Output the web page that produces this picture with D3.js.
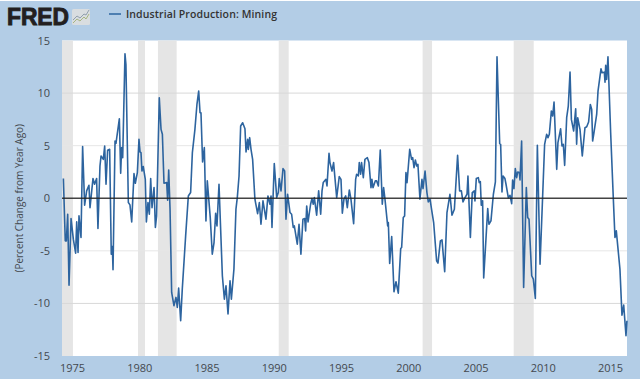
<!DOCTYPE html>
<html>
<head>
<meta charset="utf-8">
<script src="https://cdn.jsdelivr.net/npm/d3@7"></script>
<style>
  html, body { margin: 0; padding: 0; background: #fff; }
  svg { display: block; }
</style>
</head>
<body>
<div id="chart"></div>
<script>
// Industrial Production: Mining, percent change from year ago
const DATES = [
  1974.36,1974.50,1974.58,1974.68,1974.78,1974.93,1975.10,1975.27,1975.35,1975.45,1975.52,1975.67,1975.79,1975.94,
  1976.09,1976.26,1976.34,1976.56,1976.68,1976.83,1976.93,1977.08,1977.16,1977.33,1977.43,1977.53,1977.65,1977.80,1977.92,
  1978.00,1978.05,1978.20,1978.27,1978.52,1978.62,1978.69,1978.77,1978.94,1979.01,1979.19,1979.31,1979.44,1979.61,1979.71,1979.86,1979.98,
  1980.06,1980.13,1980.20,1980.30,1980.45,1980.53,1980.65,1980.75,1980.85,1980.95,1981.10,1981.20,1981.29,1981.49,1981.62,1981.72,1981.84,
  1982.04,1982.11,1982.19,1982.29,1982.41,1982.58,1982.73,1982.83,1982.93,1983.08,1983.20,1983.45,1983.65,1983.82,1983.95,
  1984.14,1984.29,1984.42,1984.52,1984.59,1984.71,1984.84,1984.96,1985.06,1985.28,1985.43,1985.56,1985.68,1985.78,1985.93,
  1986.18,1986.33,1986.45,1986.60,1986.75,1986.85,1987.04,1987.19,1987.29,1987.42,1987.54,1987.69,1987.86,1987.94,
  1988.06,1988.11,1988.21,1988.31,1988.43,1988.60,1988.80,1988.93,1989.05,1989.20,1989.42,1989.57,1989.72,1989.80,1989.87,
  1990.04,1990.22,1990.34,1990.41,1990.54,1990.69,1990.81,1990.91,1991.03,1991.21,1991.33,1991.45,1991.53,1991.75,1991.88,
  1992.02,1992.17,1992.30,1992.37,1992.45,1992.55,1992.74,1992.84,1992.94,1993.02,1993.19,1993.34,1993.49,1993.59,1993.68,1993.88,1993.96,
  1994.11,1994.18,1994.33,1994.45,1994.68,1994.87,1995.00,1995.10,1995.22,1995.35,1995.47,1995.62,1995.74,1995.94,
  1996.09,1996.16,1996.29,1996.36,1996.46,1996.53,1996.66,1996.78,1996.96,1997.08,1997.23,1997.30,1997.38,1997.55,1997.65,1997.78,1997.92,
  1998.07,1998.17,1998.27,1998.47,1998.52,1998.62,1998.77,1998.94,1999.09,1999.26,1999.44,1999.51,1999.63,1999.73,1999.83,1999.91,1999.98,
  2000.11,2000.25,2000.33,2000.43,2000.53,2000.63,2000.72,2000.87,2001.02,2001.10,2001.25,2001.39,2001.49,2001.62,2001.74,2001.89,
  2002.11,2002.21,2002.39,2002.51,2002.71,2002.88,2003.10,2003.25,2003.43,2003.67,2003.82,2003.95,
  2004.07,2004.22,2004.37,2004.44,2004.62,2004.76,2004.91,2004.96,2005.06,2005.21,2005.28,2005.36,2005.43,2005.53,2005.61,2005.91,
  2006.00,2006.15,2006.33,2006.48,2006.60,2006.80,2006.87,2006.97,2007.05,2007.19,2007.27,2007.44,2007.57,2007.69,2007.76,2007.86,2007.96,
  2008.06,2008.14,2008.26,2008.31,2008.43,2008.58,2008.78,2008.88,2008.98,2009.18,2009.30,2009.45,2009.60,2009.80,
  2010.14,2010.29,2010.39,2010.49,2010.64,2010.74,2010.84,2011.04,2011.13,2011.33,2011.43,2011.53,2011.63,2011.78,2011.90,
  2012.03,2012.13,2012.30,2012.45,2012.52,2012.60,2012.77,2012.94,2013.14,2013.27,2013.41,2013.54,2013.64,2013.71,2013.81,
  2014.01,2014.11,2014.33,2014.41,2014.58,2014.63,2014.68,2014.75,2014.85,2015.05,2015.25,2015.37,2015.47,2015.74,2015.89,2016.02,2016.19,2016.26
];
const VALUES = [
  1.87,-4.05,-4.05,-1.52,-8.26,-1.93,-3.89,-5.22,-2.25,-5.16,-1.68,-3.73,4.91,-0.66,
  0.70,1.23,-0.89,1.87,1.33,1.87,-2.88,3.07,4.02,3.70,4.97,1.33,4.56,4.65,-5.32,
  -4.59,-6.80,5.44,5.22,7.56,2.37,4.81,3.86,13.73,12.72,-0.41,-0.63,-2.25,2.34,1.42,2.44,5.60,
  4.40,4.34,2.59,3.01,1.80,-2.25,-0.41,-1.52,1.87,-0.89,1.01,-2.78,-1.68,9.56,6.55,6.08,1.42,
  1.49,-0.19,2.69,-1.04,-8.96,-10.22,-9.43,-10.38,-8.54,-11.65,-8.64,-3.58,0.22,0.54,4.34,
  6.55,8.92,10.19,8.13,8.13,3.45,4.81,-2.15,1.65,-1.84,-5.32,-4.21,-1.42,-2.63,1.33,
  -7.37,-9.59,-8.32,-11.01,-7.85,-9.59,-6.74,-1.04,0.06,2.12,6.87,7.18,6.61,4.40,
  5.60,4.65,5.76,4.65,3.70,-0.09,-1.46,-0.41,-2.47,-0.25,-1.99,0.22,-0.57,0.22,-2.78,
  3.29,0.06,0.54,1.87,0.70,2.82,2.59,-1.99,0.38,-1.36,-1.52,-2.78,-2.63,-4.37,-2.47,
  -5.32,-1.99,-1.93,-3.10,-0.73,-2.25,-0.57,-0.03,-0.57,0.06,-1.61,0.70,-1.52,0.70,1.49,1.80,1.17,
  4.27,3.39,2.59,3.39,0.06,2.06,1.80,-1.42,-0.09,0.22,-0.89,0.79,-0.09,-2.41,
  1.80,2.28,2.12,3.39,2.28,3.39,1.96,3.70,3.86,3.39,1.01,1.80,1.01,1.65,1.65,1.17,4.59,
  -0.57,1.01,-0.09,-2.63,-2.31,-6.20,-3.64,-8.89,-7.94,-9.02,-4.78,-4.68,-1.84,-1.68,2.44,1.49,2.59,
  4.65,3.70,3.86,2.91,3.64,3.07,3.23,-0.09,1.80,0.92,2.59,0.54,-0.35,-0.09,-1.11,-2.31,
  -5.95,-6.17,-4.05,-3.96,-6.99,-1.36,0.38,-1.61,-1.04,4.08,0.70,0.70,
  -0.35,0.06,0.38,2.12,-3.73,0.54,0.70,-0.25,1.87,1.96,1.49,1.58,-0.66,-0.25,-7.59,-0.98,
  -2.47,-2.15,0.38,1.55,13.45,5.19,5.13,0.60,2.12,1.87,1.33,0.06,0.28,-0.51,1.74,0.92,2.82,
  1.96,2.50,2.44,1.74,5.44,-8.48,1.01,-1.84,-2.00,-7.37,-7.69,-9.53,5.03,-6.27,
  5.13,6.08,5.76,6.08,8.29,7.82,9.15,2.75,5.28,6.61,4.97,5.13,3.13,7.66,8.77,
  11.99,7.50,6.39,8.51,5.13,7.66,6.55,4.02,6.71,6.80,7.25,8.92,8.45,5.44,6.23,
  7.97,10.19,12.31,11.93,11.99,11.04,12.63,11.30,13.45,6.23,-0.09,-3.73,-3.10,-6.74,-11.11,-10.16,-13.07,-11.65
];
const RECESSIONS = [
  [1974.26, 1975.07], [1979.91, 1980.43], [1981.39, 1982.78],
  [1990.37, 1991.11], [2001.07, 2001.77], [2007.84, 2009.33]
];
const X_TICKS = [1975, 1980, 1985, 1990, 1995, 2000, 2005, 2010, 2015];
const Y_TICKS = [-15, -10, -5, 0, 5, 10, 15];
const LEGEND_LABEL = 'Industrial Production: Mining';
const Y_TITLE = '(Percent Change from Year Ago)';

const W = 640, H = 379;
const m = { t: 40.5, r: 13, b: 23, l: 62 };
const FONT = '"Open Sans", sans-serif';
const TEXT = '#44494f';
const LINE = '#2d649f';

const svg = d3.select('#chart').append('svg')
  .attr('width', W).attr('height', H)
  .attr('viewBox', `0 0 ${W} ${H}`);

// blue page background, white plot
svg.append('rect').attr('x', 0).attr('y', 1).attr('width', W).attr('height', H - 1).attr('fill', '#b3cde6');
svg.append('rect')
  .attr('x', m.l).attr('y', m.t)
  .attr('width', W - m.l - m.r).attr('height', H - m.t - m.b)
  .attr('fill', '#fff');

const x = d3.scaleLinear().domain([1974.257, 2016.265]).range([m.l, W - m.r]);
const y = d3.scaleLinear().domain([-15, 15]).range([H - m.b, m.t]);

// recession bands
svg.append('g').selectAll('rect').data(RECESSIONS).join('rect')
  .attr('x', d => x(d[0]))
  .attr('y', m.t)
  .attr('width', d => x(d[1]) - x(d[0]))
  .attr('height', H - m.t - m.b)
  .attr('fill', '#e5e5e5');

// grid
svg.append('g').selectAll('line').data(Y_TICKS.filter(d => d !== 0 && Math.abs(d) !== 15)).join('line')
  .attr('x1', m.l).attr('x2', W - m.r)
  .attr('y1', d => y(d)).attr('y2', d => y(d))
  .attr('stroke', d => Math.abs(d) === 5 ? '#e6e6e6' : '#d8d8d8')
  .attr('stroke-width', 1);

// axes
const xAxis = svg.append('g').attr('transform', `translate(0,${H - m.b})`)
  .call(d3.axisBottom(x).tickValues(X_TICKS).tickFormat(d3.format('d')).tickSize(0).tickPadding(8.5));
const yAxis = svg.append('g').attr('transform', `translate(${m.l},0)`)
  .call(d3.axisLeft(y).tickValues(Y_TICKS).tickFormat(d => d).tickSize(0).tickPadding(12));
[xAxis, yAxis].forEach(a => {
  a.select('.domain').remove();
  a.selectAll('text').attr('font-family', FONT).attr('font-size', 11).attr('fill', TEXT);
});

svg.append('text')
  .attr('transform', `translate(19,${y(0)}) rotate(-90)`)
  .attr('text-anchor', 'middle').attr('dominant-baseline', 'central')
  .attr('font-family', FONT).attr('font-size', 10).attr('fill', TEXT)
  .text(Y_TITLE);

// series
const lineGen = d3.line().x((d, i) => x(d)).y((d, i) => y(VALUES[i]));
svg.append('path').attr('d', lineGen(DATES))
  .attr('fill', 'none').attr('stroke', LINE)
  .attr('stroke-width', 1.6).attr('stroke-linejoin', 'round');

// zero line sits over the series
svg.append('line')
  .attr('x1', m.l).attr('x2', W - m.r)
  .attr('y1', y(0)).attr('y2', y(0))
  .attr('stroke', '#222').attr('stroke-width', 1.4).attr('stroke-opacity', 0.85);

// legend
svg.append('line').attr('x1', 109).attr('x2', 121).attr('y1', 14).attr('y2', 14)
  .attr('stroke', LINE).attr('stroke-width', 1.5);
svg.append('text').attr('x', 126).attr('y', 17.5)
  .attr('font-family', FONT).attr('font-size', 10.5).attr('font-weight', 600)
  .attr('fill', '#333').attr('textLength', 151)
  .text(LEGEND_LABEL);

// FRED logo
svg.append('text').attr('x', 7).attr('y', 25)
  .attr('font-family', '"Liberation Sans", sans-serif').attr('font-size', 23).attr('font-weight', 700)
  .attr('fill', '#231f20').attr('stroke', '#231f20').attr('stroke-width', 0.9)
  .attr('textLength', 62).attr('lengthAdjust', 'spacingAndGlyphs')
  .text('FRED');
const logo = svg.append('g').attr('transform', 'translate(72,9)');
logo.append('rect').attr('width', 18).attr('height', 16).attr('rx', 1.5).attr('fill', '#d9dde0');
logo.append('path').attr('d', 'M1,11 L5,7 L8,9 L12,5 L14,6 L17,1')
  .attr('fill', 'none').attr('stroke', '#7f8f9f').attr('stroke-width', 0.8);
logo.append('path').attr('d', 'M1,14 L5,10 L8,12 L12,8 L14,10 L17,5')
  .attr('fill', 'none').attr('stroke', '#9aab6a').attr('stroke-width', 0.8);
</script>
</body>
</html>
